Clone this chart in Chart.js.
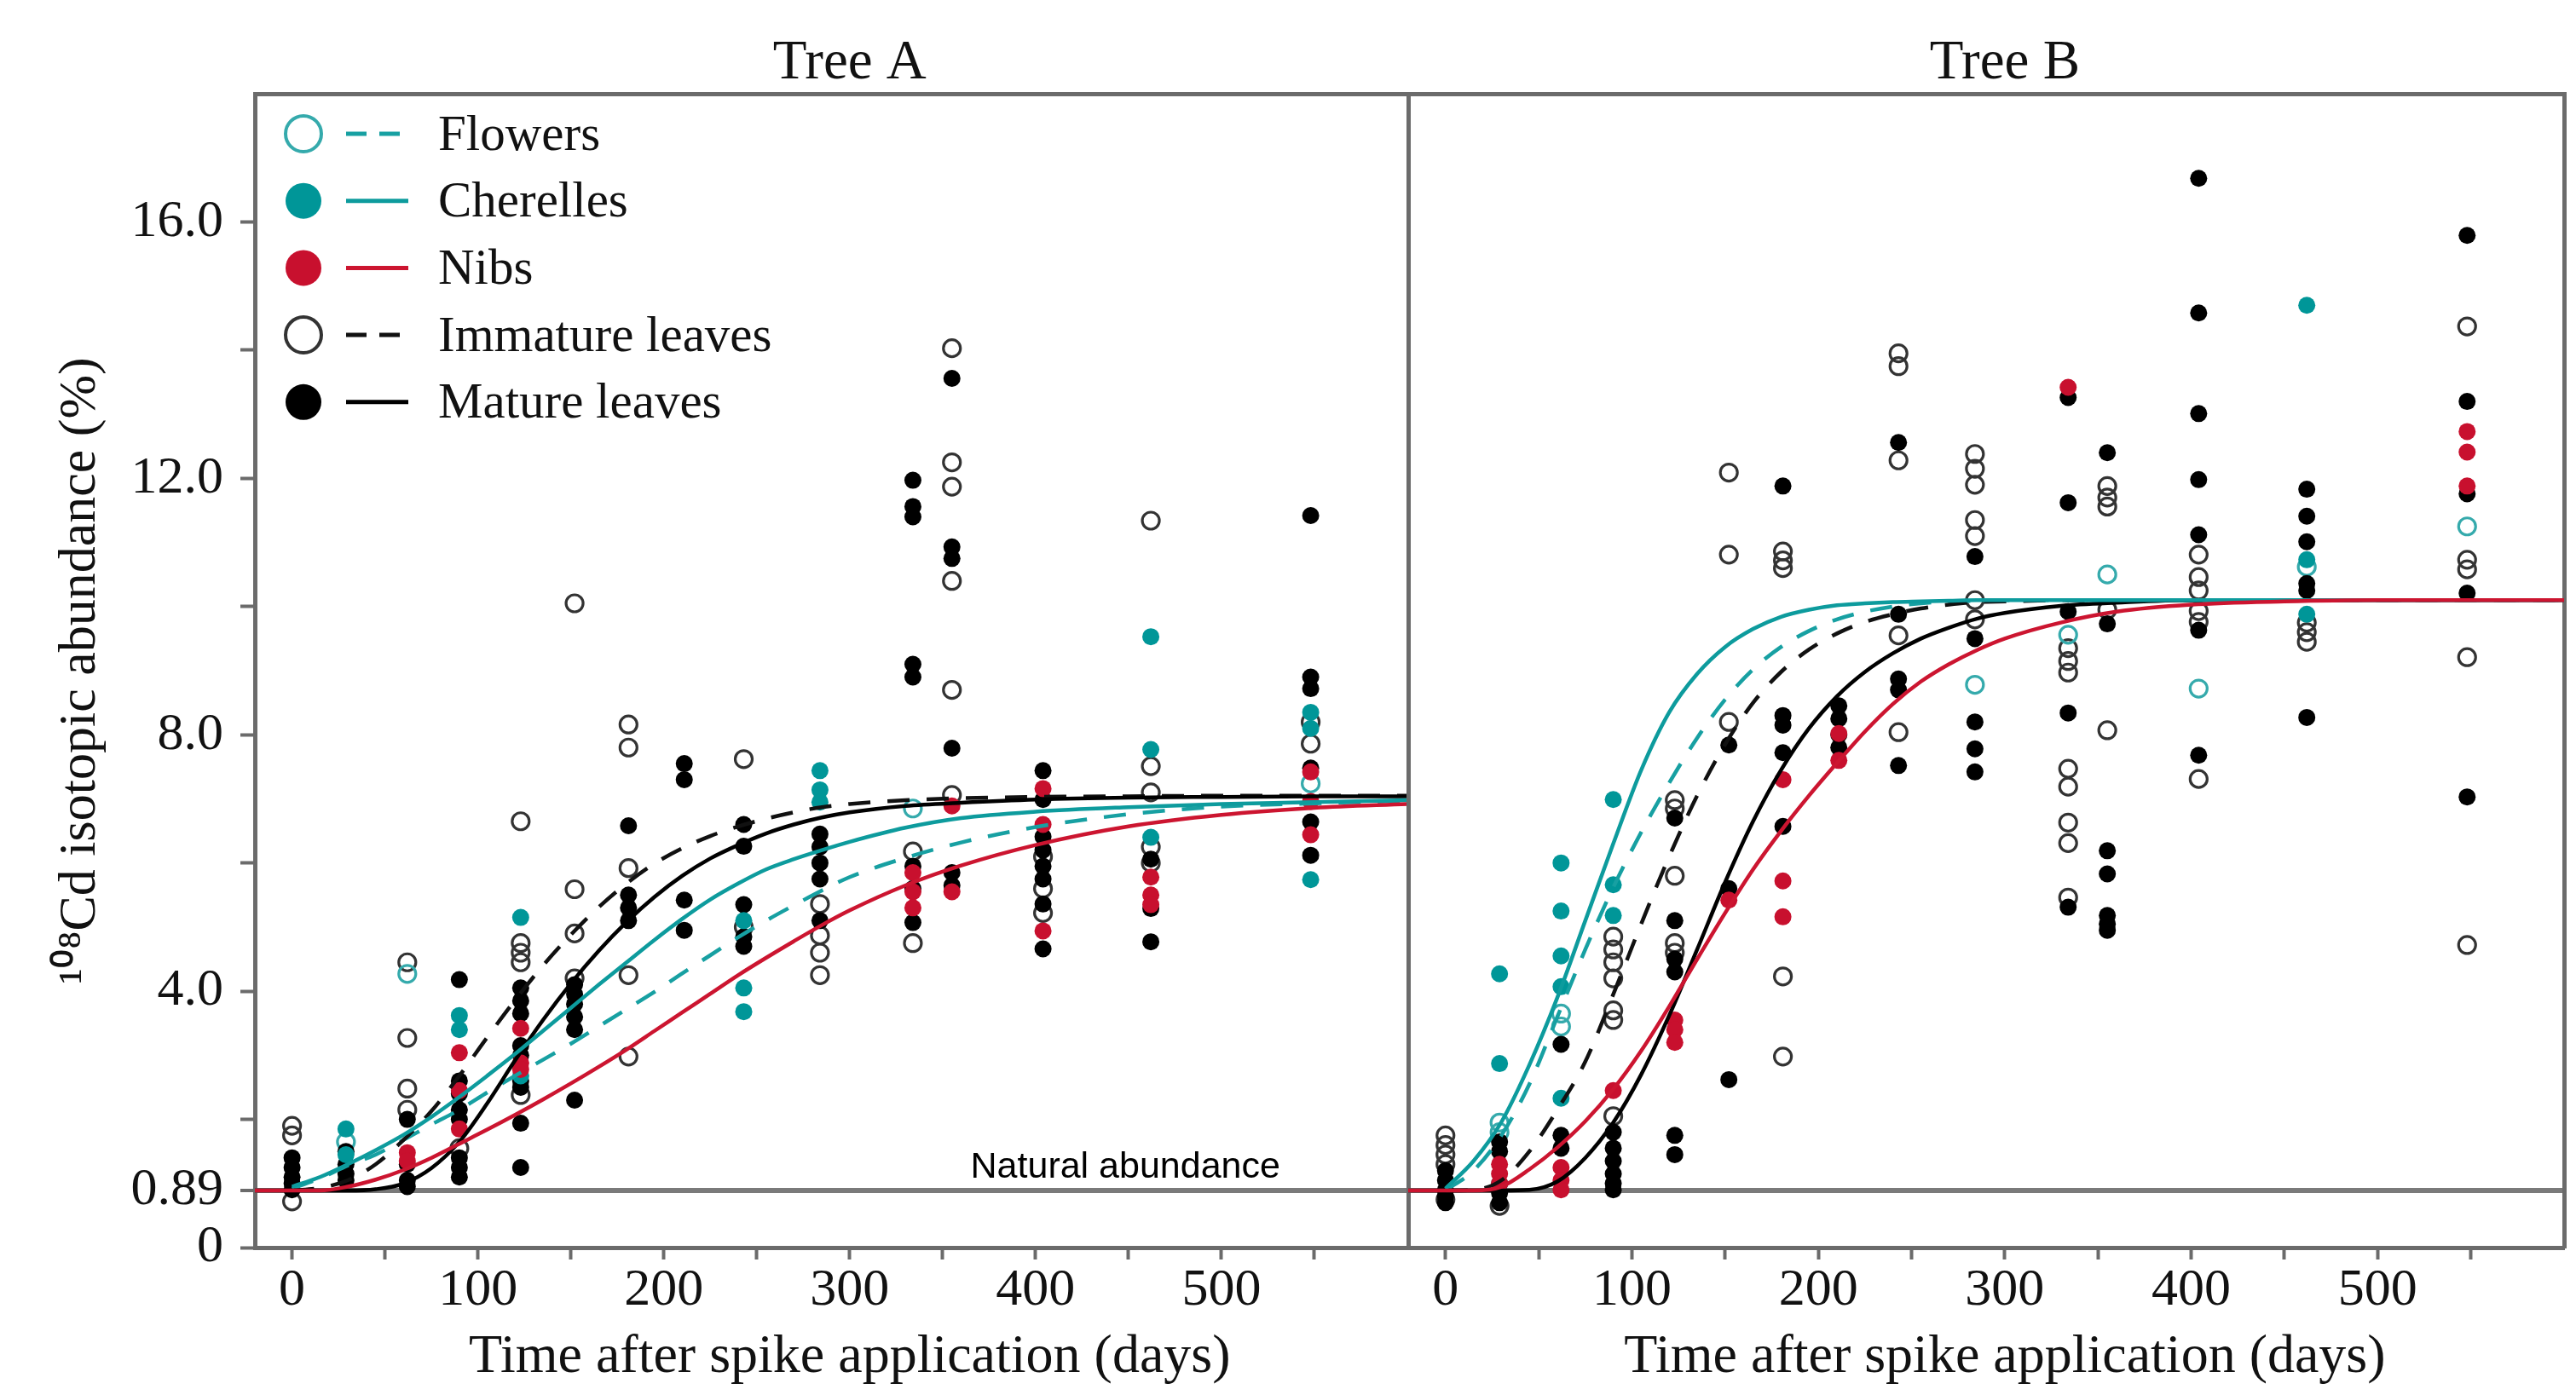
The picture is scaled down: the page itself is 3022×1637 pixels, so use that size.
<!DOCTYPE html>
<html>
<head>
<meta charset="utf-8">
<script src="https://cdn.jsdelivr.net/npm/chart.js@4.4.1/dist/chart.umd.min.js"></script>
<style>
  html, body { margin: 0; padding: 0; background: #fff; }
  body { width: 3022px; height: 1637px; position: relative; overflow: hidden; }
  .panel { position: absolute; top: 0; height: 1637px; }
  #wrapA { left: 0; width: 1700px; }
  #wrapB { left: 1600px; width: 1422px; }
</style>
</head>
<body>
<div class="panel" id="wrapA"><canvas id="treeA"></canvas></div>
<div class="panel" id="wrapB"><canvas id="treeB"></canvas></div>
<script>
// sampling days (same for both trees)
var sampleDays = [0, 29, 62, 90, 123, 152, 181, 211, 243, 284, 334, 355, 404, 462, 548];

// Tree A readings, one list per sampling day
var flowersA = [[], [1.65], [4.27], [], [], [], [], [], [], [], [6.85], [], [], [], [7.24]];
var cherellesA = [[], [1.85, 1.45], [], [3.62, 3.4], [5.15, 2.68], [], [], [], [5.1, 4.05, 3.68],
    [7.44, 7.14, 6.95], [], [], [], [9.53, 7.77, 6.4], [8.35, 8.1, 5.74]];
var nibsA = [[], [], [1.48, 1.35], [3.04, 2.45, 1.85], [3.42, 2.88, 2.78], [], [], [], [], [],
    [5.85, 5.55, 5.3], [6.89, 5.55], [7.16, 6.6, 4.94], [5.78, 5.5, 5.35], [7.42, 6.96, 6.44]];
var immatureA = [[1.9, 1.75, 0.72], [], [4.45, 3.27, 2.48, 2.15], [1.55], [6.65, 4.75, 4.6, 4.45, 2.38],
    [10.05, 5.59, 4.9, 4.2], [8.16, 7.8, 5.92, 4.25, 2.98], [], [7.62, 5.0], [5.36, 4.87, 4.6, 4.25],
    [6.18, 4.75], [14.03, 12.25, 11.87, 10.4, 8.7, 7.06], [6.1, 5.6, 5.22], [11.34, 7.51, 7.1, 6.25, 6.0], [8.2, 7.86]];
var matureA = [[1.4, 1.25, 1.1, 1.0, 0.9], [1.5, 1.3, 1.15, 1.05], [2.0, 1.3, 1.05, 0.95],
    [4.18, 2.6, 2.4, 2.15, 2.0, 1.4, 1.25, 1.1], [4.05, 3.85, 3.65, 3.15, 3.0, 2.6, 2.5, 1.94, 1.25],
    [4.1, 3.95, 3.8, 3.6, 3.4, 2.3], [6.58, 5.5, 5.3, 5.1], [7.55, 7.3, 5.42, 4.95], [6.6, 6.26, 5.35, 4.85, 4.7],
    [6.45, 6.25, 6.0, 5.75, 5.1], [11.97, 11.56, 11.4, 9.1, 8.9, 5.95, 5.6, 5.07], [13.56, 10.93, 10.75, 7.79, 5.85, 5.65],
    [7.44, 6.99, 6.41, 6.2, 5.95, 5.75, 5.36, 4.66], [6.06, 5.29, 4.77], [11.42, 8.9, 8.72, 7.48, 6.64, 6.12]];

// Tree B readings
var flowersB = [[], [1.95, 1.8], [3.65, 3.45], [], [], [], [], [], [], [8.78], [9.56], [10.5], [8.72], [10.62], [11.25]];
var cherellesB = [[], [4.27, 2.87], [6.0, 5.25, 4.55, 4.07, 2.33], [6.99, 5.66, 5.18], [], [], [], [], [], [], [], [], [],
    [14.7, 10.73, 9.88], []];
var nibsB = [[], [1.3, 1.15, 1.0], [1.25, 1.05, 0.9], [2.45], [3.55, 3.4, 3.2], [5.42], [7.3, 5.72, 5.16], [8.02, 7.6],
    [], [], [13.42], [], [], [], [12.73, 12.41, 11.88]];
var immatureB = [[1.75, 1.6, 1.45, 1.3, 0.75], [0.65], [], [4.85, 4.65, 4.45, 4.2, 3.7, 3.55, 2.05],
    [6.98, 6.85, 5.8, 4.75, 4.6], [12.09, 10.81, 8.2], [10.86, 10.72, 10.6, 4.23, 2.98], [],
    [13.95, 13.75, 12.28, 9.55, 8.04], [12.38, 12.15, 11.9, 11.35, 11.1, 10.1, 9.8],
    [9.35, 9.15, 8.97, 7.47, 7.19, 6.63, 6.31, 5.46], [11.88, 11.7, 11.56, 9.95, 8.07],
    [10.81, 10.46, 10.25, 9.93, 9.76, 7.31], [9.75, 9.6, 9.45], [14.37, 10.73, 10.58, 9.21, 4.72]];
var matureB = [[1.2, 1.05, 0.9, 0.8, 0.7], [1.65, 1.5, 1.0, 0.85, 0.7], [3.17, 1.75, 1.55], [1.8, 1.55, 1.35, 1.15, 1.0, 0.9],
    [6.7, 5.1, 4.5, 4.3, 1.75, 1.45], [7.84, 5.6, 2.62], [11.88, 8.3, 8.15, 7.72, 6.57], [8.45, 8.25, 8.0, 7.8],
    [12.56, 9.88, 8.87, 8.7, 7.52], [10.78, 9.5, 8.2, 7.78, 7.42], [13.26, 11.62, 9.92, 8.34, 5.31],
    [12.4, 9.73, 6.19, 5.83, 5.18, 5.05, 4.95], [16.68, 14.58, 13.01, 11.98, 11.12, 9.63, 7.68],
    [11.83, 11.41, 11.01, 10.36, 10.25, 8.27], [15.79, 13.2, 11.76, 10.21, 7.03]];

// fitted curves
var curveDays = [-20, 0, 15, 30, 45, 60, 75, 90, 105, 120, 135, 150, 165, 180, 195, 210, 225, 240, 255, 270, 285, 300, 330, 360, 400, 450, 500, 550, 600];
var fitFlowersA = [null, 0.92, 1.08, 1.28, 1.45, 1.68, 1.92, 2.15, 2.42, 2.68, 2.93, 3.18, 3.45, 3.72, 3.99, 4.28, 4.56, 4.84, 5.1, 5.34, 5.57, 5.78, 6.08, 6.32, 6.56, 6.76, 6.88, 6.93, 6.97];
var fitCherellesA = [null, 0.95, 1.1, 1.3, 1.52, 1.76, 2.04, 2.35, 2.68, 3.02, 3.38, 3.74, 4.1, 4.45, 4.8, 5.13, 5.43, 5.68, 5.9, 6.06, 6.2, 6.33, 6.55, 6.7, 6.8, 6.87, 6.92, 6.95, 6.98];
var fitNibsA = [0.89, 0.89, 0.89, 0.95, 1.06, 1.21, 1.4, 1.62, 1.84, 2.07, 2.31, 2.56, 2.82, 3.09, 3.38, 3.67, 3.96, 4.25, 4.52, 4.78, 5.03, 5.26, 5.65, 5.96, 6.28, 6.57, 6.75, 6.86, 6.92];
var fitImmatureA = [null, 0.89, 0.93, 1.05, 1.3, 1.68, 2.13, 2.68, 3.28, 3.86, 4.4, 4.88, 5.31, 5.68, 5.99, 6.23, 6.42, 6.57, 6.69, 6.79, 6.87, 6.92, 6.98, 7.01, 7.03, 7.04, 7.05, 7.05, 7.05];
var fitMatureA = [0.89, 0.89, 0.89, 0.89, 0.91, 1.0, 1.24, 1.65, 2.25, 2.92, 3.55, 4.12, 4.63, 5.08, 5.47, 5.8, 6.07, 6.28, 6.46, 6.6, 6.71, 6.79, 6.89, 6.94, 6.99, 7.02, 7.03, 7.04, 7.04];

var fitFlowersB = [null, 0.89, 1.2, 1.75, 2.55, 3.6, 4.65, 5.62, 6.48, 7.25, 7.95, 8.55, 9.02, 9.37, 9.62, 9.8, 9.92, 10.0, 10.05, 10.08, 10.09, 10.1, 10.1, 10.1, 10.1, 10.1, 10.1, 10.1, 10.1];
var fitCherellesB = [null, 0.92, 1.35, 1.96, 2.85, 3.9, 5.1, 6.3, 7.45, 8.35, 8.95, 9.37, 9.65, 9.84, 9.95, 10.02, 10.05, 10.07, 10.08, 10.09, 10.1, 10.1, 10.1, 10.1, 10.1, 10.1, 10.1, 10.1, 10.1];
var fitNibsB = [0.89, 0.89, 0.89, 0.95, 1.22, 1.56, 1.97, 2.47, 3.07, 3.76, 4.5, 5.22, 5.9, 6.5, 7.05, 7.56, 8.05, 8.48, 8.83, 9.1, 9.32, 9.5, 9.75, 9.92, 10.03, 10.08, 10.1, 10.1, 10.1];
var fitImmatureB = [null, 0.89, 0.9, 1.05, 1.5, 2.15, 2.9, 3.95, 5.05, 6.1, 7.05, 7.85, 8.5, 8.98, 9.33, 9.58, 9.76, 9.88, 9.97, 10.03, 10.07, 10.08, 10.1, 10.1, 10.1, 10.1, 10.1, 10.1, 10.1];
var fitMatureB = [0.89, 0.89, 0.89, 0.89, 0.9, 1.03, 1.4, 1.95, 2.7, 3.62, 4.65, 5.7, 6.65, 7.45, 8.1, 8.6, 8.98, 9.27, 9.5, 9.67, 9.81, 9.9, 10.01, 10.06, 10.1, 10.1, 10.1, 10.1, 10.1];

// axis ticks
var xTickValues = [0, 50, 100, 150, 200, 250, 300, 350, 400, 450, 500, 550];
var yTickValues = [0, 0.89, 2, 4, 6, 8, 10, 12, 14, 16];
var yTickLabels = ['0', '0.89', '', '4.0', '', '8.0', '', '12.0', '', '16.0'];

// tissue styles
var tissueNames = ['Flowers', 'Cherelles', 'Nibs', 'Immature leaves', 'Mature leaves'];
var markerColors = ['#35aaac', '#009698', '#c8102e', '#333333', '#000000'];
var lineColors = ['#17a0a2', '#0d9b9d', '#cc1530', '#111111', '#000000'];
var tissueFilled = [false, true, true, false, true];
var tissueDashed = [true, false, false, true, false];
var pointOrder = [4, 2, 1, 5, 3];
var curveDrawIndex = [2, 1, 4, 3, 0]; // nibs curve on top

var axisGray = '#6b6b6b';
Chart.defaults.font.family = "'Liberation Serif', 'Times New Roman', serif";
Chart.defaults.color = '#111';

function toPoints(lists) {
    var out = [];
    lists.forEach(function (vals, i) {
        vals.forEach(function (v) { out.push({ x: sampleDays[i], y: v }); });
    });
    return out;
}

function toCurve(vals) {
    var out = [];
    curveDays.forEach(function (d, i) {
        if (vals[i] !== null) out.push({ x: d, y: vals[i] });
    });
    return out;
}

function makeDatasets(points, fits) {
    var sets = [];
    curveDrawIndex.forEach(function (k) {
        sets.push({
            label: tissueNames[k] + ' fit',
            data: toCurve(fits[k]),
            showLine: true,
            borderColor: lineColors[k],
            borderWidth: 4.5,
            borderDash: tissueDashed[k] ? [26, 20] : [],
            cubicInterpolationMode: 'monotone',
            pointRadius: 0,
            fill: false,
            order: 0
        });
    });
    points.forEach(function (p, k) {
        sets.push({
            label: tissueNames[k],
            data: toPoints(p),
            showLine: false,
            pointRadius: 10,
            pointBorderWidth: tissueFilled[k] ? 0 : 3.2,
            pointBorderColor: markerColors[k],
            pointBackgroundColor: tissueFilled[k] ? markerColors[k] : 'rgba(255,255,255,0)',
            order: pointOrder[k]
        });
    });
    return sets;
}

// panel title above and axis title below, both centred on day 300 as in the figure
var panelTexts = {
    id: 'panelTexts',
    afterDraw: function (chart, args, opts) {
        var ctx = chart.ctx, cx = chart.scales.x.getPixelForValue(opts.centerDay);
        ctx.save();
        ctx.fillStyle = '#111';
        ctx.textAlign = 'center';
        ctx.textBaseline = 'alphabetic';
        ctx.font = "65px 'Liberation Serif'";
        ctx.fillText(opts.title, cx, chart.chartArea.top - 18);
        ctx.font = "64px 'Liberation Serif'";
        ctx.fillText(opts.xTitle, cx, chart.chartArea.bottom + 146);
        ctx.restore();
    }
};

var tissueLegend = {
    id: 'tissueLegend',
    afterDraw: function (chart) {
        var ctx = chart.ctx, a = chart.chartArea;
        ctx.save();
        tissueNames.forEach(function (name, i) {
            var y = a.top + 47 + i * 78.7;
            ctx.beginPath();
            ctx.setLineDash([]);
            ctx.arc(a.left + 57, y, 21, 0, Math.PI * 2);
            if (tissueFilled[i]) {
                ctx.fillStyle = markerColors[i];
                ctx.fill();
            } else {
                ctx.lineWidth = 4;
                ctx.strokeStyle = markerColors[i];
                ctx.stroke();
            }
            ctx.beginPath();
            ctx.lineWidth = 5;
            ctx.strokeStyle = lineColors[i];
            ctx.setLineDash(tissueDashed[i] ? [24, 15] : []);
            ctx.moveTo(a.left + 107, y);
            ctx.lineTo(a.left + (tissueDashed[i] ? 170 : 180), y);
            ctx.stroke();
            ctx.setLineDash([]);
            ctx.font = "59px 'Liberation Serif'";
            ctx.fillStyle = '#111';
            ctx.textAlign = 'left';
            ctx.textBaseline = 'middle';
            ctx.fillText(name, a.left + 215, y + 3);
        });
        ctx.restore();
    }
};

var naturalLabel = {
    id: 'naturalLabel',
    afterDatasetsDraw: function (chart) {
        var ctx = chart.ctx;
        ctx.save();
        ctx.font = "43px 'Liberation Sans'";
        ctx.fillStyle = '#000';
        ctx.textAlign = 'left';
        ctx.textBaseline = 'alphabetic';
        ctx.fillText('Natural abundance', chart.scales.x.getPixelForValue(365), chart.scales.y.getPixelForValue(1.09));
        ctx.restore();
    }
};

function makeOptions(isA, title) {
    return {
        animation: false,
        responsive: true,
        maintainAspectRatio: false,
        devicePixelRatio: 1,
        layout: { padding: { left: 0, top: 110, right: isA ? 49 : 14, bottom: 0 } },
        plugins: {
            legend: { display: false },
            tooltip: { enabled: false },
            panelTexts: { title: title, xTitle: 'Time after spike application (days)', centerDay: 300 }
        },
        scales: {
            x: {
                type: 'linear',
                min: -20,
                max: 600,
                afterBuildTicks: function (s) { s.ticks = xTickValues.map(function (v) { return { value: v }; }); },
                afterFit: function (s) { s.height = 173; },
                ticks: {
                    autoSkip: false,
                    maxRotation: 0,
                    padding: 0,
                    font: { size: 62 },
                    color: '#111',
                    callback: function (v) { return v % 100 === 0 ? String(v) : ''; }
                },
                grid: { drawOnChartArea: false, tickLength: 14, tickColor: axisGray, tickWidth: 4 },
                border: { display: true, width: 5, color: axisGray }
            },
            y: {
                type: 'linear',
                min: 0,
                max: 18,
                afterBuildTicks: function (s) { s.ticks = yTickValues.map(function (v) { return { value: v }; }); },
                afterFit: function (s) { s.width = isA ? 299 : 52; },
                ticks: {
                    display: isA,
                    autoSkip: false,
                    padding: 20,
                    font: { size: 62 },
                    color: '#111',
                    callback: function (v, i) { return yTickLabels[i]; }
                },
                grid: {
                    drawOnChartArea: true,
                    drawTicks: isA,
                    tickLength: 17,
                    tickColor: axisGray,
                    tickWidth: 4,
                    color: function (c) { return c.tick && c.tick.value === 0.89 ? '#7a7a7a' : 'rgba(0,0,0,0)'; },
                    lineWidth: function (c) { return c.tick && c.tick.value === 0.89 ? 6 : 1; }
                },
                border: { display: true, width: 5, color: axisGray },
                title: {
                    display: isA,
                    text: '\u00b9\u2070\u2078Cd isotopic abundance (%)',
                    font: { size: 62 },
                    color: '#111',
                    padding: { top: 58, bottom: 0 }
                }
            },
            xTop: {
                axis: 'x',
                type: 'linear',
                position: 'top',
                min: 0,
                max: 1,
                afterFit: function (s) { s.height = 0; },
                ticks: { display: false },
                grid: { drawOnChartArea: false, drawTicks: false },
                border: { display: true, width: 5, color: axisGray }
            },
            yRight: {
                axis: 'y',
                type: 'linear',
                position: 'right',
                display: !isA,
                min: 0,
                max: 18,
                afterFit: function (s) { s.width = 0; },
                ticks: { display: false },
                grid: { drawOnChartArea: false, drawTicks: false },
                border: { display: true, width: 5, color: axisGray }
            }
        }
    };
}

new Chart(document.getElementById('treeA'), {
    type: 'scatter',
    data: {
        datasets: makeDatasets([flowersA, cherellesA, nibsA, immatureA, matureA],
            [fitFlowersA, fitCherellesA, fitNibsA, fitImmatureA, fitMatureA])
    },
    options: makeOptions(true, 'Tree A'),
    plugins: [panelTexts, tissueLegend, naturalLabel]
});

new Chart(document.getElementById('treeB'), {
    type: 'scatter',
    data: {
        datasets: makeDatasets([flowersB, cherellesB, nibsB, immatureB, matureB],
            [fitFlowersB, fitCherellesB, fitNibsB, fitImmatureB, fitMatureB])
    },
    options: makeOptions(false, 'Tree B'),
    plugins: [panelTexts]
});
</script>
</body>
</html>
